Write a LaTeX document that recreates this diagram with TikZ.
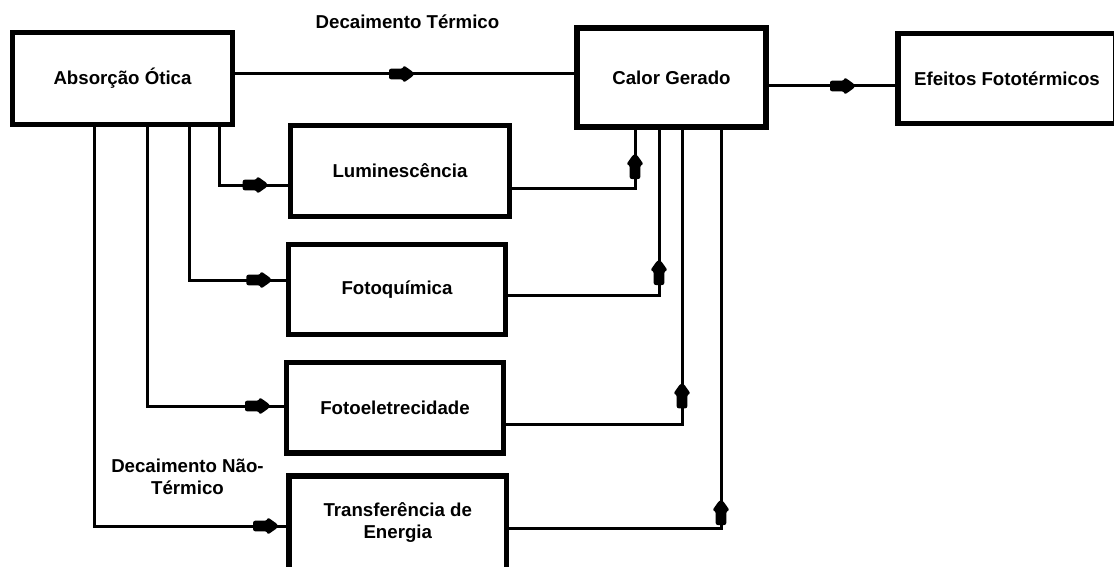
\documentclass[tikz,border=0pt]{standalone}
\usepackage{fontspec}
\setmainfont{Liberation Sans}
\usetikzlibrary{decorations.markings}

\tikzset{
	caixa/.style={draw, line width=4pt, inner sep=0pt, align=center, font=\bfseries\fontsize{14}{17}\selectfont},
	rotulo/.style={inner sep=0pt, align=center, font=\bfseries\fontsize{14}{16.5}\selectfont},
	liga/.style={line width=2.25pt},
	blobat/.style={postaction={decorate, decoration={markings, mark=at position #1 with {
		\fill[rounded corners=1.6pt] (-10pt,-4pt) -- (0.5pt,-4pt) -- (1pt,-6.5pt) -- (8.5pt,-1.2pt) -- (8.5pt,1.2pt) -- (1pt,6.5pt) -- (0.5pt,4pt) -- (-10pt,4pt) -- cycle;}}}}
}

\begin{document}
\begin{tikzpicture}[x=0.75pt, y=-0.75pt]
			%%%%% CAIXAS %%%%%
			\useasboundingbox (0,0) rectangle (1114,567);
			
			\node[caixa, minimum width=165pt, minimum height=69pt] (abs) at (122.5, 78.5) {Absorção Ótica};
			\node[caixa, minimum width=141.75pt, minimum height=74.25pt] (calor) at (671.5, 77.5) {Calor Gerado};
			\node[caixa, minimum width=163.5pt, minimum height=67.5pt] (efeitos) at (1007, 78.5) {Efeitos Fototérmicos};
			
			\node[caixa, minimum width=164pt, minimum height=68pt] (lum) at (400, 171) {Luminescência};
			\node[caixa, minimum width=163pt, minimum height=67.5pt] (fotoq) at (397, 289.5) {Fotoquímica};
			\node[caixa, minimum width=163pt, minimum height=68pt] (fotoel) at (395, 407.75) {Fotoeletrecidade};
			\node[caixa, minimum width=163pt, minimum height=70pt] (transf) at (397.75, 522.5) {Transferência de\\Energia};
			
			\node[rotulo] (dtermico) at (407.5, 22) {Decaimento Térmico};
			\node[rotulo] (dnaotermico) at (187.5, 477) {Decaimento Não-\\Térmico};
			
			%%%%% CANTOS %%%%%
			\coordinate (cdt) at (0, 74);
			\coordinate (cef) at (0, 86);
			\coordinate (dlum) at (219, 185);
			\coordinate (dfq) at (189, 280);
			\coordinate (dfe) at (147, 406);
			\coordinate (dtr) at (94, 526);
			\coordinate (ulum) at (635, 188);
			\coordinate (ufq) at (659, 295);
			\coordinate (ufe) at (682, 424);
			\coordinate (utr) at (721, 528);
			
			%%%%% LIGACOES %%%%%
			\draw[liga, blobat=-129pt] (abs.east |- cdt) -- (calor.west |- cdt);
			\draw[liga, blobat=-39pt] (calor.east |- cef) -- (efeitos.west |- cef);
			
			\draw[liga, blobat=-24pt] (abs.south -| dlum) -- (dlum) -- (lum.west |- dlum);
			\draw[liga, blobat=-19.5pt] (abs.south -| dfq) -- (dfq) -- (fotoq.west |- dfq);
			\draw[liga, blobat=-19pt] (abs.south -| dfe) -- (dfe) -- (fotoel.west |- dfe);
			\draw[liga, blobat=-15pt] (abs.south -| dtr) -- (dtr) -- (transf.west |- dtr);
			
			\draw[liga, blobat=-27pt] (lum.east |- ulum) -- (ulum) -- (calor.south -| ulum);
			\draw[liga, blobat=-106.5pt] (fotoq.east |- ufq) -- (ufq) -- (calor.south -| ufq);
			\draw[liga, blobat=-199pt] (fotoel.east |- ufe) -- (ufe) -- (calor.south -| ufe);
			\draw[liga, blobat=-286.5pt] (transf.east |- utr) -- (utr) -- (calor.south -| utr);
			
			%%%%% FIM %%%%%
\end{tikzpicture}
\end{document}
